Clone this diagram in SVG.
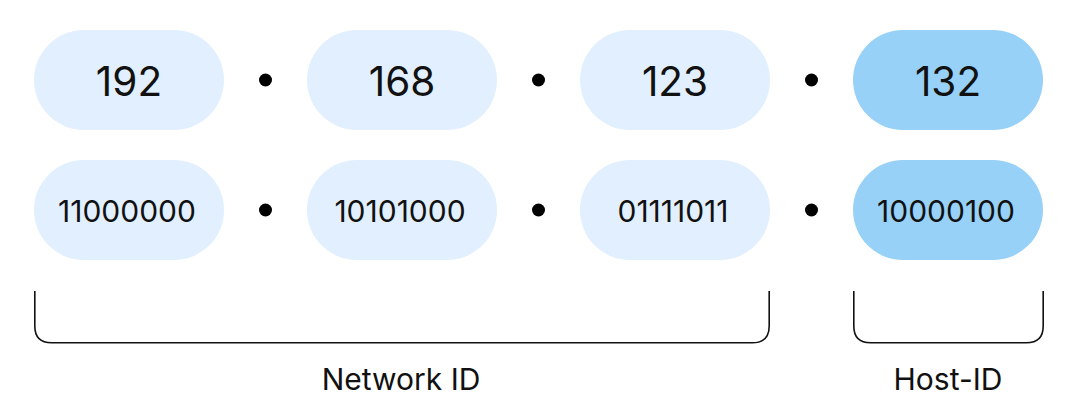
<svg xmlns="http://www.w3.org/2000/svg" width="1080" height="406" viewBox="0 0 1080 406">
<style>
.pill{fill:#E1EFFE}
.host{fill:#97D1F8}
.big{font-family:Inter,"Noto Sans",sans-serif;font-size:40.5px;fill:#111;text-anchor:middle;dominant-baseline:central}
.small{font-family:Inter,"Noto Sans",sans-serif;font-size:30px;fill:#111;text-anchor:middle;dominant-baseline:central}
.lbl{font-family:Inter,"Noto Sans",sans-serif;font-size:30px;fill:#111;text-anchor:middle}
.dot{fill:#000}
.br{fill:none;stroke:#111;stroke-width:1.6}
</style>
<rect width="1080" height="406" fill="#fff"/>
<g id="n192"><rect class="pill" x="34" y="30" width="190" height="100" rx="50"/><text class="big" x="129" y="81">192</text></g>
<g id="n168"><rect class="pill" x="307" y="30" width="190" height="100" rx="50"/><text class="big" x="402" y="81">168</text></g>
<g id="n123"><rect class="pill" x="580" y="30" width="190" height="100" rx="50"/><text class="big" x="675" y="81">123</text></g>
<g id="n132"><rect class="host" x="853" y="30" width="190" height="100" rx="50"/><text class="big" x="948" y="81">132</text></g>
<g id="b1"><rect class="pill" x="34" y="160" width="190" height="100" rx="50"/><text class="small" x="127" y="211">11000000</text></g>
<g id="b2"><rect class="pill" x="307" y="160" width="190" height="100" rx="50"/><text class="small" x="400" y="211">10101000</text></g>
<g id="b3"><rect class="pill" x="580" y="160" width="190" height="100" rx="50"/><text class="small" x="673" y="211">01111011</text></g>
<g id="b4"><rect class="host" x="853" y="160" width="190" height="100" rx="50"/><text class="small" x="946" y="211">10000100</text></g>
<g id="dots">
<circle class="dot" cx="265.5" cy="80" r="6.5"/><circle class="dot" cx="538.5" cy="80" r="6.5"/><circle class="dot" cx="811.5" cy="80" r="6.5"/>
<circle class="dot" cx="265.5" cy="210" r="6.5"/><circle class="dot" cx="538.5" cy="210" r="6.5"/><circle class="dot" cx="811.5" cy="210" r="6.5"/>
</g>
<g id="connectors">
<path class="br" d="M34.8 291 V326 Q34.8 342.8 51.6 342.8 H752.4 Q769.2 342.8 769.2 326 V291"/>
<path class="br" d="M853.8 291 V326 Q853.8 342.8 870.6 342.8 H1026.4 Q1043.2 342.8 1043.2 326 V291"/>
</g>
<g id="labels">
<text class="lbl" x="401" y="390">Network ID</text>
<text class="lbl" x="948" y="390">Host-ID</text>
</g>
</svg>
